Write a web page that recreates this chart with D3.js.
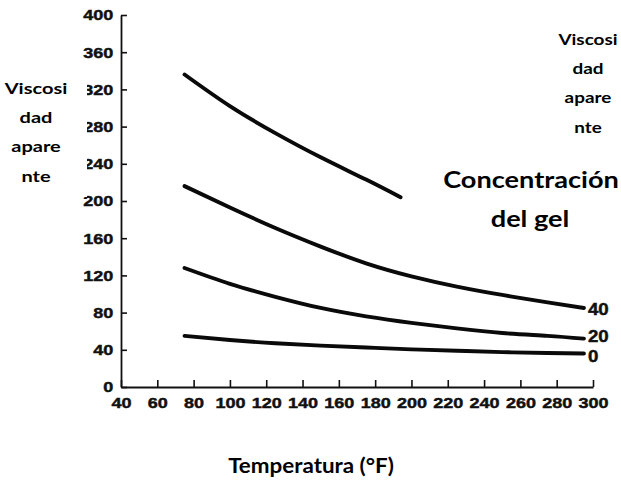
<!DOCTYPE html>
<html>
<head>
<meta charset="utf-8">
<script src="https://cdn.jsdelivr.net/npm/d3@7"></script>
<style>
  html, body { margin: 0; padding: 0; background: #fff; }
  svg { display: block; }
</style>
</head>
<body>
<svg id="chart" width="621" height="482"></svg>
<script>
// ---- data ----
const temps = [75, 100, 125, 150, 175, 200, 225, 250, 275, 295];
const topTemps = [75, 100, 125, 150, 175, 194];
const gelTop = [336, 302, 273, 247, 223, 204];   // upper curve, its label is hidden
const gel40 = [216, 193, 171, 151, 133, 119, 108, 99, 91, 85];
const gel20 = [128, 111, 97, 85, 76, 69, 63, 58, 55, 52];
const gel0  = [55, 50.5, 47, 44.5, 42.5, 40.5, 39, 37.5, 36.5, 36];
const curveLabels = ["40", "20", "0"];
const xTicks = [40, 60, 80, 100, 120, 140, 160, 180, 200, 220, 240, 260, 280, 300];
const yTicks = [0, 40, 80, 120, 160, 200, 240, 280, 320, 360, 400];
const yLabelLines = ["Viscosi", "dad", "apare", "nte"];
const gelTitleLines = ["Concentración", "del gel"];
const xTitle = "Temperatura (°F)";

const svg = d3.select("#chart");
const x = d3.scaleLinear().domain([40, 300]).range([121, 593]);
const y = d3.scaleLinear().domain([0, 400]).range([387, 15]);

const tickFont = "'Liberation Sans', Arial, sans-serif";

// x axis
const gx = svg.append("g").attr("transform", `translate(0,${y(0)})`)
  .call(d3.axisBottom(x).tickValues(xTicks).tickSizeInner(-7).tickSizeOuter(0).tickPadding(10).tickFormat(d3.format("d")));
// y axis
const gy = svg.append("g").attr("transform", `translate(${x(40)},0)`)
  .call(d3.axisLeft(y).tickValues(yTicks).tickSizeInner(-6).tickSizeOuter(0).tickPadding(6.5).tickFormat(d3.format("d")));

[gx, gy].forEach(g => {
  g.select(".domain").attr("stroke", "#111").attr("stroke-width", 1.8);
  g.selectAll(".tick line").attr("stroke", "#111").attr("stroke-width", 1.6);
  g.selectAll(".tick text").attr("fill", "#111").attr("transform", "scale(1.2,1)")
    .attr("stroke", "#111").attr("stroke-width", 0.45)
    .style("font-family", tickFont).style("font-weight", "bold").style("font-size", "15px");
});

// curves
const line = d3.line().x(d => x(d[0])).y(d => y(d[1])).curve(d3.curveNatural);
const series = [
  { t: topTemps, v: gelTop, label: null, shift: 0 },
  { t: temps, v: gel40, label: curveLabels[0], shift: 1 },
  { t: temps, v: gel20, label: curveLabels[1], shift: -3 },
  { t: temps, v: gel0, label: curveLabels[2], shift: 2 }
];
series.forEach(s => {
  const pts = s.t.map((t, i) => [t, s.v[i]]);
  svg.append("path").attr("d", line(pts)).attr("fill", "none")
    .attr("stroke", "#0a0a0a").attr("stroke-width", 3.9).attr("stroke-linecap", "round");
  if (s.label) {
    const last = pts[pts.length - 1];
    svg.append("g").attr("transform", `translate(${x(last[0]) + 4},${y(last[1]) + s.shift}) scale(1.1,1)`)
      .append("text").attr("dy", "0.36em")
      .attr("fill", "#111").attr("stroke", "#111").attr("stroke-width", 0.45)
      .style("font-family", tickFont).style("font-weight", "bold")
      .style("font-size", "17px").text(s.label);
  }
});

// overlay box on the left (hides part of the y tick labels, as in reference)
svg.append("rect").attr("x", 0).attr("y", 66).attr("width", 87).attr("height", 131).attr("fill", "#fff");

const labFont = "Lato, 'Open Sans', sans-serif";
function stretchedText(cx, by, txt, size, sx) {
  svg.append("g").attr("transform", `translate(${cx},${by}) scale(${sx},1)`)
    .append("text").attr("text-anchor", "middle").attr("fill", "#000")
    .style("font-family", labFont).style("font-weight", "bold").style("font-size", size + "px")
    .text(txt);
}
const leftBase = [94, 123, 152, 182];
yLabelLines.forEach((t, i) => stretchedText(36, leftBase[i], t, 16, 1.25));
const rightBase = [45, 74, 103, 133];
yLabelLines.forEach((t, i) => stretchedText(588, rightBase[i], t, 15.5, 1.22));
stretchedText(531, 188, gelTitleLines[0], 23, 1.18);
stretchedText(530, 227, gelTitleLines[1], 23, 1.18);
stretchedText(311, 473, xTitle, 20, 1.12);
</script>
</body>
</html>
